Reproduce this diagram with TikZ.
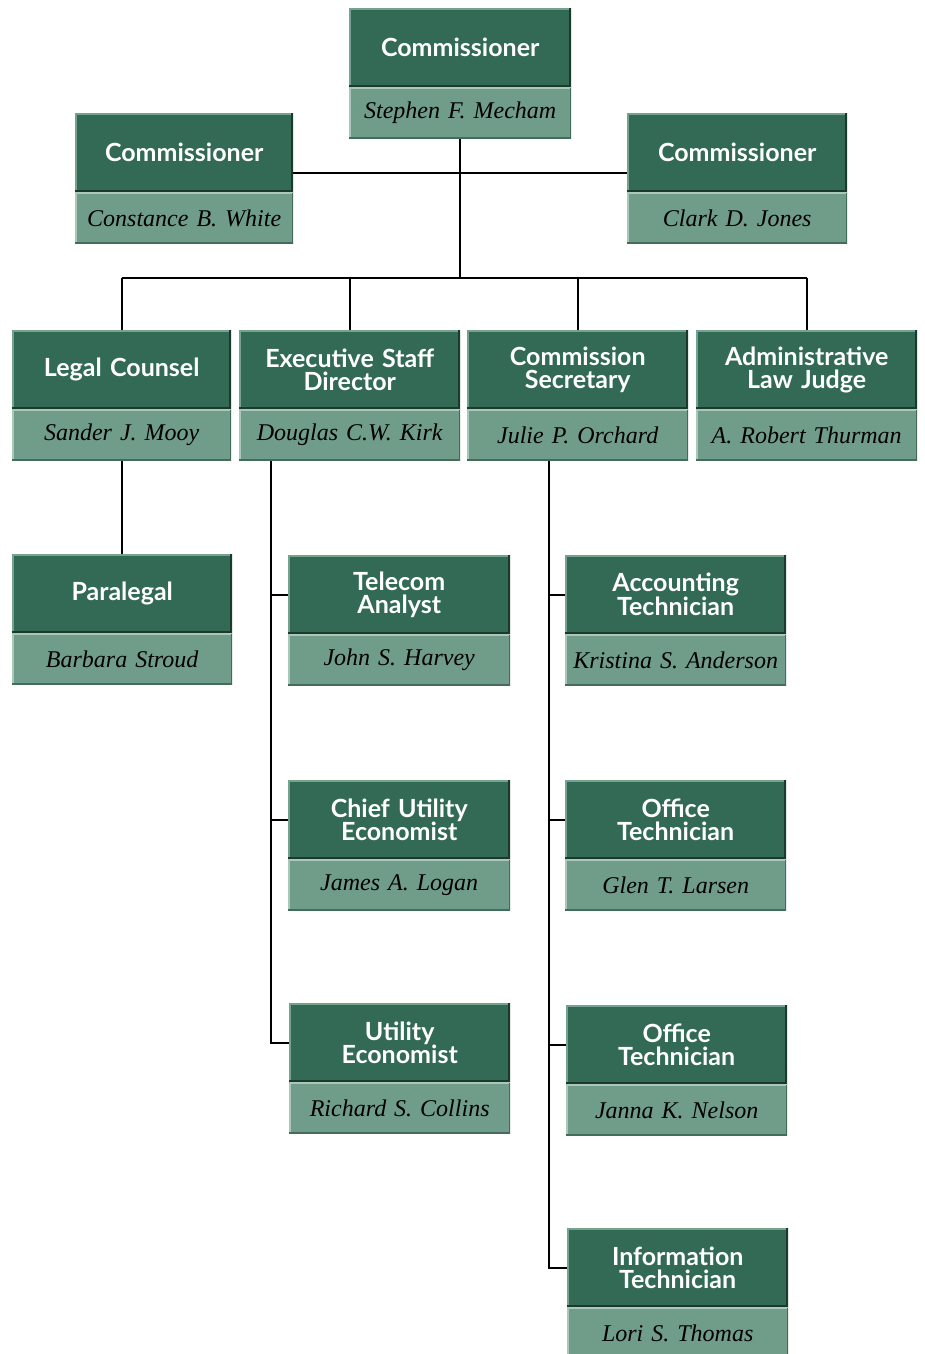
\documentclass[tikz,border=0pt]{standalone}
\usepackage{fontspec}
\newfontfamily\titlefont{Lato}
\newfontfamily\namefont{Liberation Serif}[ItalicFont={Liberation Serif Italic},BoldItalicFont={Liberation Serif Bold Italic}]
\definecolor{titlefill}{RGB}{50,106,86}
\definecolor{namefill}{RGB}{112,157,137}
\definecolor{edgedark}{RGB}{26,58,46}
\definecolor{edgelight}{RGB}{118,163,143}
\definecolor{nameedgelight}{RGB}{170,200,185}
\definecolor{nameedgedark}{RGB}{68,108,90}
\newcommand\obox[6]{%
  \node[titlebox, minimum width=#4pt, text width=#4pt-10pt, anchor=north west] (#1t) at (#2,#3) {#5};
  \node[namebox, minimum width=#4pt, text width=#4pt-6pt, anchor=north west] (#1n) at (#1t.south west) {#6};
}
\begin{document}
\begin{tikzpicture}[x=1pt,y=-1pt,
  titlebox/.style={fill=titlefill, inner sep=0pt, minimum height=79pt, align=center,
    font=\titlefont\bfseries\fontsize{25}{23}\selectfont, text=white,
    path picture={
      \draw[line width=3pt, edgelight] (path picture bounding box.south west) -- (path picture bounding box.north west) -- (path picture bounding box.north east);
      \draw[line width=4pt, edgedark] (path picture bounding box.south west) -- (path picture bounding box.south east) -- (path picture bounding box.north east);}},
  namebox/.style={fill=namefill, inner sep=0pt, minimum height=51pt, align=center,
    font=\namefont\itshape\fontsize{24}{24}\selectfont, text=black,
    path picture={
      \draw[line width=3pt, nameedgelight] (path picture bounding box.south west) -- (path picture bounding box.north west) -- (path picture bounding box.north east);
      \draw[line width=3pt, nameedgedark] (path picture bounding box.south west) -- (path picture bounding box.south east) -- (path picture bounding box.north east);}},
  conn/.style={line width=1.6pt, black}
]
\useasboundingbox[fill=white] (0,0) rectangle (924,1354);

\obox{c0}{349}{8}{222}{Commissioner}{Stephen F. Mecham}
\obox{c1}{75}{113}{218}{Commissioner}{Constance B. White}
\obox{c2}{627}{113}{220}{Commissioner}{Clark D. Jones}
\obox{lc}{12}{330}{219}{Legal Counsel}{Sander J. Mooy}
\obox{ed}{239}{330}{221}{Executive Staff\\Director}{Douglas C.W. Kirk}
\obox{cs}{467}{330}{221}{Commission\\Secretary}{Julie P. Orchard}
\obox{aj}{696}{330}{221}{Administrative\\Law Judge}{A. Robert Thurman}
\obox{pl}{12}{554}{220}{Paralegal}{Barbara Stroud}
\obox{ta}{288}{555}{222}{Telecom\\Analyst}{John S. Harvey}
\obox{at}{565}{555}{221}{Accounting\\Technician}{Kristina S. Anderson}
\obox{ce}{288}{780}{222}{Chief Utility\\Economist}{James A. Logan}
\obox{oa}{565}{780}{221}{Office\\Technician}{Glen T. Larsen}
\obox{ue}{289}{1003}{221}{Utility\\Economist}{Richard S. Collins}
\obox{ob}{566}{1005}{221}{Office\\Technician}{Janna K. Nelson}
\obox{it}{567}{1228}{221}{Information\\Technician}{Lori S. Thomas}

\coordinate (hub) at (460,278);
\coordinate (j1) at (460,173);
\draw[conn] (c0n.south) -- (c0n.south |- hub);
\draw[conn] (c1t.east |- j1) -- (c2t.west |- j1);
\draw[conn] (lct.north |- hub) -- (ajt.north |- hub);
\foreach \b in {lc,ed,cs,aj} \draw[conn] (\b t.north |- hub) -- (\b t.north);
\draw[conn] (lcn.south) -- (lcn.south |- plt.north);

\coordinate (ej) at ([xshift=32pt]edn.south west);
\draw[conn] (ej) |- (uet.west);
\draw[conn] (ej |- tat.west) -- (tat.west);
\draw[conn] (ej |- cet.west) -- (cet.west);

\coordinate (sj) at ([xshift=82pt]csn.south west);
\draw[conn] (sj) |- (itt.west);
\draw[conn] (sj |- att.west) -- (att.west);
\draw[conn] (sj |- oat.west) -- (oat.west);
\draw[conn] (sj |- obt.west) -- (obt.west);
\end{tikzpicture}
\end{document}
